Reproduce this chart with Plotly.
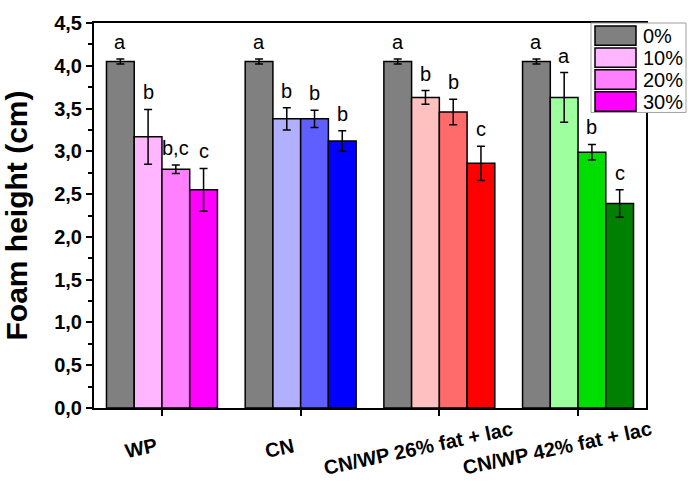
import plotly.graph_objects as go

# ---------------- data ----------------
groups = ["WP", "CN", "CN/WP 26% fat + lac", "CN/WP 42% fat + lac"]
series = ["0%", "10%", "20%", "30%"]

vals_0 = [4.05, 4.05, 4.05, 4.05]
vals_10 = [3.17, 3.38, 3.63, 3.63]
vals_20 = [2.79, 3.38, 3.46, 2.99]
vals_30 = [2.55, 3.12, 2.86, 2.39]

err_0 = [0.03, 0.03, 0.03, 0.03]
err_10 = [0.32, 0.13, 0.08, 0.29]
err_20 = [0.05, 0.10, 0.15, 0.09]
err_30 = [0.25, 0.12, 0.20, 0.16]

letters_0 = ["a", "a", "a", "a"]
letters_10 = ["b", "b", "b", "a"]
letters_20 = ["b,c", "b", "b", "b"]
letters_30 = ["c", "b", "c", "c"]

colors_0 = ["#808080", "#808080", "#808080", "#808080"]
colors_10 = ["#FFB6FF", "#B0B0FF", "#FFC0C0", "#9EFF9E"]
colors_20 = ["#FF80FF", "#5F5FFF", "#FF6B6B", "#00DD00"]
colors_30 = ["#FF00FF", "#0000FF", "#FF0000", "#008000"]

values = [vals_0, vals_10, vals_20, vals_30]
errors = [err_0, err_10, err_20, err_30]
letters = [letters_0, letters_10, letters_20, letters_30]
colors = [colors_0, colors_10, colors_20, colors_30]

FONT = "Arial, Liberation Sans, sans-serif"
W, H = 688, 483
ML, MR, MT, MB = 94, 42, 12, 75

xpos = list(range(len(groups)))

fig = go.Figure()
for s, v, e, c in zip(series, values, errors, colors):
    fig.add_trace(go.Bar(
        name=s, x=xpos, y=v,
        marker=dict(color=c, line=dict(color="#000000", width=1.5)),
        error_y=dict(type="data", array=e, visible=True, color="#000000",
                     thickness=1.5, width=4),
        showlegend=False,
    ))

n = len(series)
bw = 0.8 / n
annotations = []
for j in range(n):
    off = -0.4 + bw * (j + 0.5)
    for i in xpos:
        annotations.append(dict(
            x=i + off, y=values[j][i] + errors[j][i], xref="x", yref="y",
            text=letters[j][i], showarrow=False, yanchor="bottom", yshift=4,
            font=dict(family=FONT, size=20, color="#000000"),
        ))

# rotated category labels
for i, g in enumerate(groups):
    annotations.append(dict(
        x=i, y=0, xref="x", yref="paper", text="<b>%s</b>" % g,
        showarrow=False, xanchor="center", yanchor="middle",
        xshift=-21, yshift=-40, textangle=-12,
        font=dict(family=FONT, size=20, color="#000000"),
    ))

# custom legend (box with wide swatches)
pw = W - ML - MR
ph = H - MT - MB


def px(xp):
    return (xp - ML) / pw


def py(yp):
    return (H - MB - yp) / ph


shapes = [dict(type="rect", xref="paper", yref="paper",
               x0=px(591), x1=px(686), y0=py(104), y1=py(12),
               fillcolor="white", line=dict(color="#A0A0A0", width=1),
               layer="above")]
row_h = 22.6
for j, s in enumerate(series):
    top = 15 + j * row_h
    shapes.append(dict(type="rect", xref="paper", yref="paper",
                       x0=px(595), x1=px(636), y0=py(top + 20), y1=py(top),
                       fillcolor=colors[j][0],
                       line=dict(color="#000000", width=1.5), layer="above"))
    annotations.append(dict(x=px(641), y=py(top + 10), xref="paper", yref="paper",
                            text=s, showarrow=False, xanchor="left", yanchor="middle",
                            font=dict(family=FONT, size=20, color="#000000")))

fig.update_layout(
    width=W, height=H,
    margin=dict(l=ML, r=MR, t=MT, b=MB),
    paper_bgcolor="white", plot_bgcolor="white",
    barmode="group", bargap=0.2, bargroupgap=0,
    separators=",.",
    annotations=annotations,
    shapes=shapes,
    font=dict(family=FONT, color="#000000"),
    xaxis=dict(
        range=[-0.49, 3.49], tickvals=xpos, showticklabels=False,
        ticks="outside", ticklen=6, tickwidth=2, tickcolor="#000000",
        showline=True, linecolor="#000000", linewidth=2, mirror=True,
        showgrid=False, zeroline=False,
    ),
    yaxis=dict(
        range=[0, 4.5], dtick=0.5, tick0=0, tickformat=".1f",
        ticks="outside", ticklen=6, tickwidth=2, tickcolor="#000000",
        minor=dict(dtick=0.25, ticks="outside", ticklen=4, tickwidth=1.5,
                   tickcolor="#000000"),
        showline=True, linecolor="#000000", linewidth=2, mirror=True,
        showgrid=False, zeroline=False,
        tickfont=dict(family=FONT, size=20, color="#000000", weight="bold"),
        title=dict(text="<b>Foam height (cm)</b>", standoff=18,
                   font=dict(family=FONT, size=30, color="#000000")),
    ),
)

fig.write_html("out.html")
